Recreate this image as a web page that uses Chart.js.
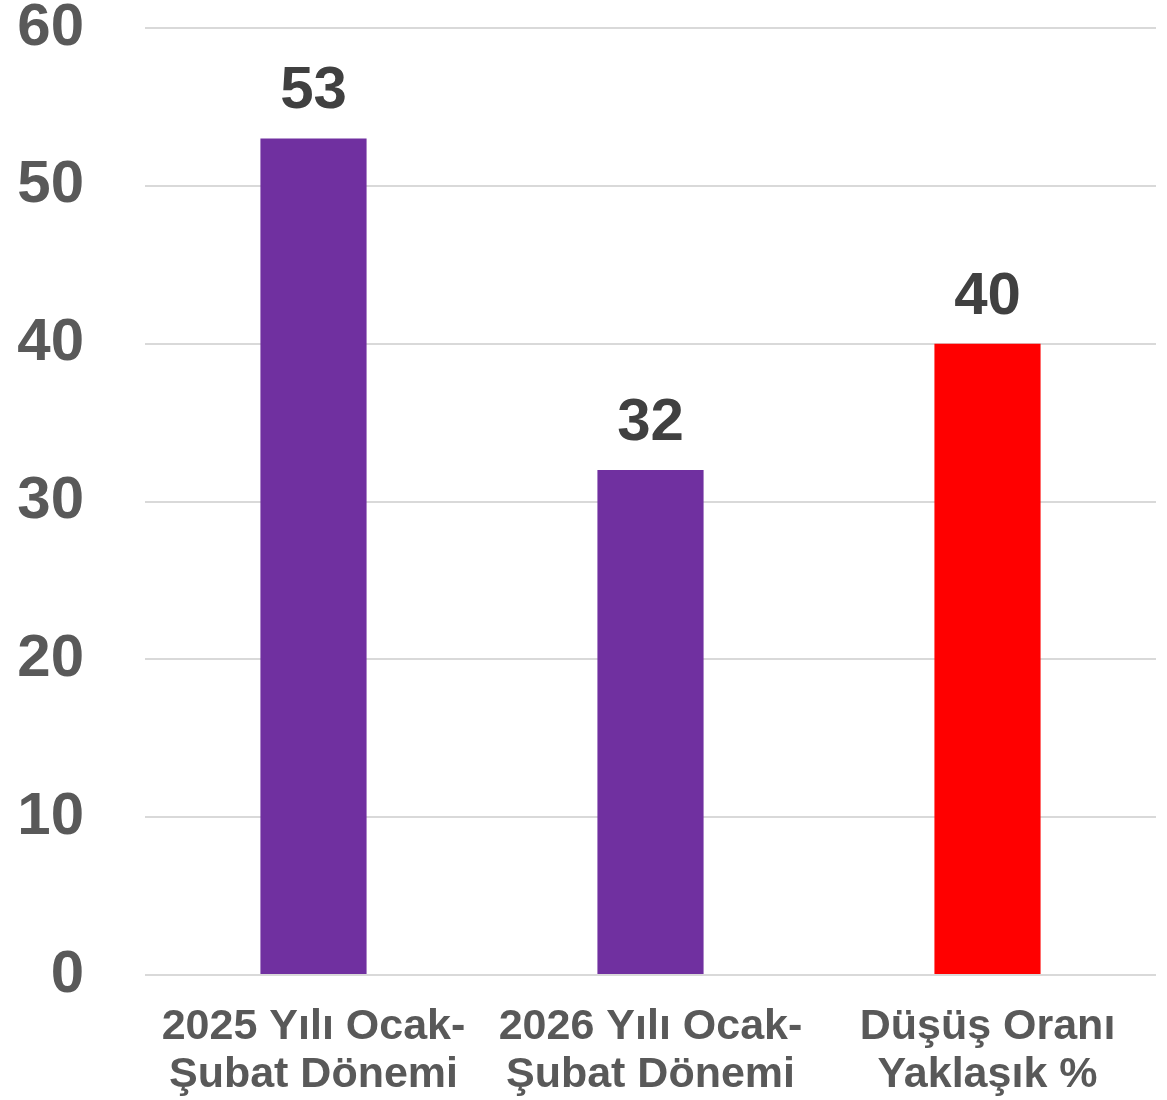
<!DOCTYPE html>
<html>
<head>
<meta charset="utf-8">
<script src="https://cdn.jsdelivr.net/npm/chart.js@4"></script>
<style>
html,body{margin:0;padding:0;background:#fff;}
#wrap{width:1167px;height:1100px;}
</style>
</head>
<body>
<div id="wrap"><canvas id="c" width="1167" height="1100"></canvas></div>
<script>
const categories = [["2025 Yılı Ocak-","Şubat Dönemi"],["2026 Yılı Ocak-","Şubat Dönemi"],["Düşüş Oranı","Yaklaşık %"]];
const values = [53, 32, 40];
const barColors = ["#7030A0", "#7030A0", "#FF0000"];
const yTicks = [0, 10, 20, 30, 40, 50, 60];

const FONT = "'Liberation Sans', Arial, sans-serif";

const valueLabels = {
  id: 'valueLabels',
  afterDatasetsDraw(chart) {
    const ctx = chart.ctx;
    const meta = chart.getDatasetMeta(0);
    ctx.save();
    ctx.font = "bold 60px " + FONT;
    ctx.fillStyle = "#404040";
    ctx.textAlign = "center";
    ctx.textBaseline = "alphabetic";
    meta.data.forEach((bar, i) => {
      ctx.fillText(String(values[i]), bar.x, bar.y - 30);
    });
    ctx.restore();
  }
};

new Chart(document.getElementById('c'), {
  type: 'bar',
  data: {
    labels: categories,
    datasets: [{
      data: values,
      backgroundColor: barColors,
      borderWidth: 0,
      barPercentage: 0.63,
      categoryPercentage: 0.5
    }]
  },
  options: {
    responsive: false,
    animation: false,
    devicePixelRatio: 1,
    layout: { padding: { left: 17, right: 11, top: 28, bottom: 0 } },
    plugins: { legend: { display: false }, tooltip: { enabled: false } },
    scales: {
      y: {
        min: 0, max: 60,
        afterBuildTicks(axis) { axis.ticks = yTicks.map(v => ({ value: v })); },
        afterFit(axis) { axis.paddingTop = 0; axis.paddingBottom = 0; axis.width = 128; },
        grid: { color: "#D9D9D9", lineWidth: 2, drawTicks: false },
        border: { display: false },
        ticks: {
          padding: 61,
          color: "#595959",
          font: { family: FONT, size: 60, weight: 'bold' }
        }
      },
      x: {
        afterFit(axis) { axis.paddingLeft = 0; axis.paddingRight = 0; axis.height = 125; },
        grid: { display: false, drawTicks: false },
        border: { display: false },
        ticks: {
          padding: 28,
          color: "#595959",
          maxRotation: 0,
          autoSkip: false,
          font: { family: FONT, size: 43, weight: 'bold', lineHeight: 1.12 }
        }
      }
    }
  },
  plugins: [valueLabels]
});
</script>
</body>
</html>
